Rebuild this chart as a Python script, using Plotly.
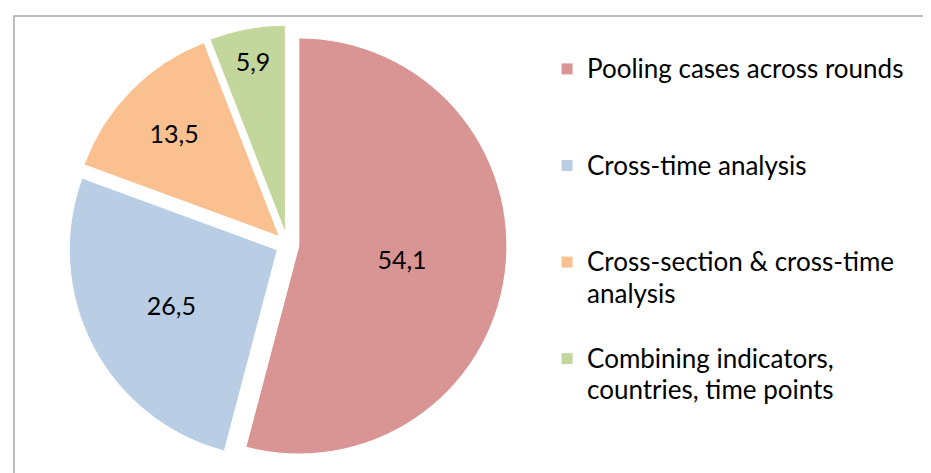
import plotly.graph_objects as go

categories = [
    "Pooling cases across rounds",
    "Cross-time analysis",
    "Cross-section & cross-time analysis",
    "Combining indicators, countries, time points",
]
shares = [54.1, 26.5, 13.5, 5.9]
colors = ["#D99594", "#B9CDE5", "#FAC090", "#C3D69B"]

# legend lines as wrapped in the original; every entry padded to 3 lines
legend_lines = [
    ["Pooling cases across rounds", " ", " "],
    ["Cross-time analysis", " ", " "],
    ["Cross-section & cross-time", "analysis", " "],
    ["Combining indicators,", "countries, time points", " "],
]
legend_text = ["<br>".join('<span style="font-size:26px">%s</span>' % s for s in lines)
               for lines in legend_lines]

W, H = 931, 473
cx, cy, half = 279.5, 236.5, 219.5

fig = go.Figure(go.Pie(
    labels=legend_text,
    values=shares,
    sort=False,
    direction="clockwise",
    rotation=0,
    pull=0.055,
    marker=dict(colors=colors, line=dict(color="white", width=1)),
    texttemplate="%{value:.1f}",
    textposition="inside",
    insidetextorientation="horizontal",
    textfont=dict(family="Lato", size=25, color="black"),
    hovertemplate="%{customdata}: %{value}<extra></extra>",
    customdata=categories,
    domain=dict(x=[(cx - half) / W, (cx + half) / W],
                y=[(H - cy - half) / H, (H - cy + half) / H]),
))

fig.update_layout(
    width=W, height=H,
    margin=dict(l=0, r=0, t=0, b=0),
    separators=", ",
    paper_bgcolor="white",
    font=dict(family="Lato", size=24, color="black"),
    legend=dict(x=0.579, y=0.918, xanchor="left", yanchor="top",
                valign="top", font=dict(family="Lato", size=24),
                bgcolor="rgba(0,0,0,0)"),
    shapes=[dict(type="rect", xref="paper", yref="paper",
                 x0=6 / W, x1=1.05, y0=-0.05, y1=(H - 8) / H,
                 line=dict(color="#A6A6A6", width=1.5), layer="below")],
)

fig.write_html("out.html")
